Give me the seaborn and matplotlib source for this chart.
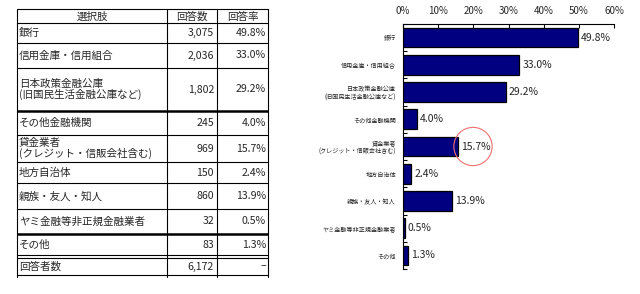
import matplotlib
matplotlib.use("Agg")
import matplotlib.pyplot as plt
import seaborn as sns
import numpy as np
import pandas as pd

# ---- data ----
categories = ["銀行", "信用金庫・信用組合", "日本政策金融公庫\n(旧国民生活金融公庫など)",
              "その他金融機関", "貸金業者\n(クレジット・信販会社含む)", "地方自治体",
              "親族・友人・知人", "ヤミ金融等非正規金融業者", "その他"]
chart_labels = ["銀行", "信用金庫・信用組合", "日本政策金融公庫\n(旧国民生活金融公庫など)",
                "その他金融機関", "貸金業者\n(クレジット・信販会社含む)", "地方自治体",
                "親族・友人・知人", "ヤミ金融等非正規金融業者", "その他"]
counts = [3075, 2036, 1802, 245, 969, 150, 860, 32, 83]
rates = [49.8, 33.0, 29.2, 4.0, 15.7, 2.4, 13.9, 0.5, 1.3]
total_label = "回答者数"
total_count = 6172
headers = ["選択肢", "回答数", "回答率"]
x_ticks = [0, 10, 20, 30, 40, 50, 60]
highlight = "貸金業者\n(クレジット・信販会社含む)"

sns.set_theme(style="white")
plt.rcParams['font.family'] = ['Noto Sans CJK JP', 'DejaVu Sans']

W, H = 640, 294
fig = plt.figure(figsize=(W / 100, H / 100), dpi=100)
fig.patch.set_facecolor("white")

# ---- table (pixel-coordinate axes) ----
tax = fig.add_axes([0, 0, 1, 1])
tax.set_xlim(0, W)
tax.set_ylim(H, 0)
tax.axis("off")

col_x = [17, 167, 217, 268]
row_y = [9, 23, 43, 68, 111, 135, 162, 183, 209, 234, 256, 275]
thin = 0.8
thick = 1.8
fs = 7.6

def hline(y, lw=thin):
    tax.plot([col_x[0], col_x[-1]], [y, y], color="black", lw=lw, solid_capstyle="butt")

for y in row_y:
    if y in (111, 234):
        hline(y, thick)
    elif y == 256:
        hline(255, thin)
        hline(258, thin)
    else:
        hline(y)
for x in col_x:
    tax.plot([x, x], [row_y[0], row_y[-1] + 2], color="black", lw=thin)

# headers
for j, h in enumerate(headers):
    tax.text((col_x[j] + col_x[j + 1]) / 2, (row_y[0] + row_y[1]) / 2 + 0.5, h,
             ha="center", va="center", fontsize=fs)

# body rows
for i, (c, n, r) in enumerate(zip(categories, counts, rates)):
    y0 = row_y[i + 1]
    y1 = row_y[i + 2]
    ym = (y0 + y1) / 2
    tax.text(col_x[0] + 2, ym, c, ha="left", va="center", fontsize=fs, linespacing=1.05)
    tax.text(col_x[2] - 3, ym, f"{n:,}", ha="right", va="center", fontsize=fs)
    tax.text(col_x[3] - 2, ym, f"{r:.1f}%", ha="right", va="center", fontsize=fs)

ym = (258 + 275) / 2
tax.text(col_x[0] + 2, ym, total_label, ha="left", va="center", fontsize=fs)
tax.text(col_x[2] - 3, ym, f"{total_count:,}", ha="right", va="center", fontsize=fs)
tax.text(col_x[3] - 2, ym, "–", ha="right", va="center", fontsize=fs)

# ---- bar chart ----
ax = fig.add_axes([403 / W, 1 - 269 / H, (614 - 403) / W, (269 - 24) / H])
df = pd.DataFrame({"label": chart_labels, "rate": rates})
sns.barplot(data=df, x="rate", y="label", orient="h", color="#000080",
            edgecolor="black", linewidth=0.9, width=0.72, saturation=1, ax=ax)

ax.set_xlim(0, 60)
ax.set_ylim(len(chart_labels) - 0.5, -0.5)
ax.set_xlabel("")
ax.set_ylabel("")
ax.xaxis.tick_top()
ax.set_xticks(x_ticks)
ax.set_xticklabels([f"{t}%" for t in x_ticks], fontsize=7)
ax.tick_params(axis="x", which="major", direction="in", length=3, width=0.8,
               color="black", pad=6, top=True, bottom=False)
ax.set_yticks(range(len(chart_labels)))
ax.set_yticklabels(chart_labels, fontsize=4.4, linespacing=1.05)
ax.tick_params(axis="y", which="major", length=0, pad=5)
ax.set_yticks(np.arange(-0.5, len(chart_labels), 1), minor=True)
ax.tick_params(axis="y", which="minor", direction="in", length=3, width=0.8, color="black", left=True)
for s in ["right", "bottom"]:
    ax.spines[s].set_visible(False)
for s in ["top", "left"]:
    ax.spines[s].set_color("black")
    ax.spines[s].set_linewidth(0.8)
ax.grid(False)

for i, r in enumerate(rates):
    ax.text(r + 0.9, i, f"{r:.1f}%", ha="left", va="center", fontsize=7.5)

hi = chart_labels.index(highlight)
ax.scatter([rates[hi] + 4.2], [hi], s=760, facecolors="none", edgecolors="#f07070",
           linewidths=0.8, zorder=5, clip_on=False)

fig.savefig("out.png", dpi=100)
